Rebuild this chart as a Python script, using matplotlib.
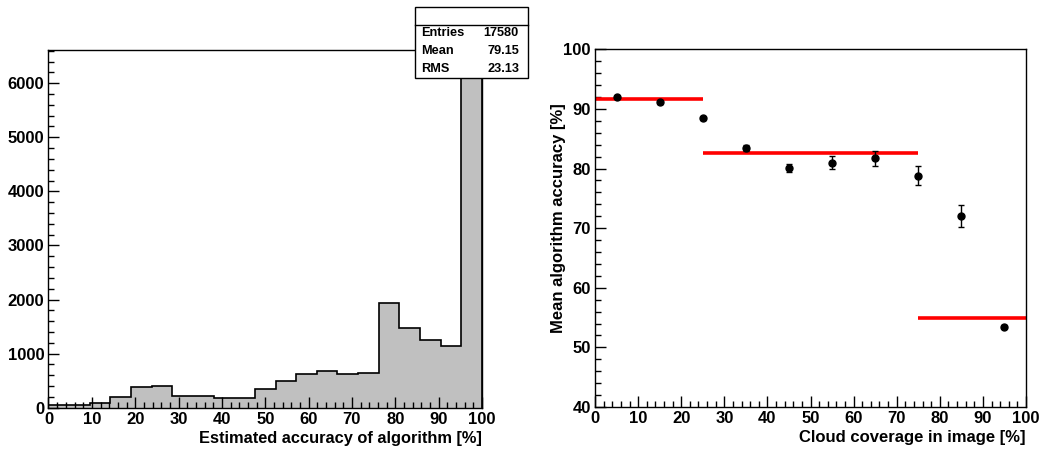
import matplotlib.pyplot as plt
import matplotlib.patches as patches
from matplotlib.lines import Line2D
from matplotlib.ticker import MultipleLocator
import numpy as np

plt.rcParams['font.family'] = ['Liberation Sans', 'DejaVu Sans']
plt.rcParams['font.weight'] = 'bold'

# left: histogram of estimated accuracy, 21 bins on 0..100
hist_edges = np.linspace(0, 100, 22)
hist_counts = [55, 55, 95, 190, 375, 395, 210, 210, 170, 170, 340,
               500, 625, 670, 620, 645, 1945, 1470, 1250, 1140, 6300]
stats_names = ["Entries", "Mean", "RMS"]
stats_values = ["17580", "79.15", "23.13"]

# right: mean accuracy vs cloud coverage
cloud_x = [5, 15, 25, 35, 45, 55, 65, 75, 85, 95]
acc_mean = [92.0, 91.1, 88.4, 83.4, 80.1, 81.0, 81.7, 78.8, 72.0, 53.5]
acc_err = [0.2, 0.2, 0.3, 0.5, 0.7, 1.1, 1.3, 1.55, 1.85, 0.3]
fit_start = [0, 25, 75]
fit_end = [25, 75, 100]
fit_level = [91.6, 82.55, 55.0]

fig = plt.figure(figsize=(10.43, 4.49), dpi=100)
ax1 = fig.add_axes([0.0465, 0.092, 0.4156, 0.7967])
ax2 = fig.add_axes([0.5705, 0.0935, 0.4132, 0.7967])

ax1.stairs(hist_counts, hist_edges, fill=True, facecolor='#c0c0c0', edgecolor='none')
ax1.stairs(hist_counts, hist_edges, fill=False, color='black', lw=1.2)
ax1.set_xlim(0, 100)
ax1.set_ylim(0, 6615)
ax1.xaxis.set_major_locator(MultipleLocator(10))
ax1.xaxis.set_minor_locator(MultipleLocator(2))
ax1.yaxis.set_major_locator(MultipleLocator(1000))
ax1.yaxis.set_minor_locator(MultipleLocator(200))
ax1.set_xlabel("Estimated accuracy of algorithm [%]", loc='right', fontsize=11.8, fontweight='bold')
ax1.xaxis.set_label_coords(1.0, -0.065)

ax2.errorbar(cloud_x, acc_mean, yerr=acc_err, fmt='o', color='black', ms=5,
             capsize=2, elinewidth=1, capthick=1, zorder=3)
ax2.hlines(fit_level, fit_start, fit_end, colors='red', lw=2.6, zorder=2)
ax2.set_xlim(0, 100)
ax2.set_ylim(40, 100)
ax2.xaxis.set_major_locator(MultipleLocator(10))
ax2.xaxis.set_minor_locator(MultipleLocator(2))
ax2.yaxis.set_major_locator(MultipleLocator(10))
ax2.yaxis.set_minor_locator(MultipleLocator(2))
ax2.set_xlabel("Cloud coverage in image [%]", loc='right', fontsize=12, fontweight='bold')
ax2.xaxis.set_label_coords(1.0, -0.065)
ax2.set_ylabel("Mean algorithm accuracy [%]", loc='top', fontsize=12, fontweight='bold')
ax2.yaxis.set_label_coords(-0.067, 0.85)

for ax in (ax1, ax2):
    ax.tick_params(which='major', direction='in', length=8, width=1, pad=3, labelsize=12,
                   top=False, right=False)
    ax.tick_params(which='minor', direction='in', length=4, width=1, top=False, right=False)
    for lab in ax.get_xticklabels() + ax.get_yticklabels():
        lab.set_fontweight('bold')
    for sp in ax.spines.values():
        sp.set_linewidth(1)

# stats box
bx0, bx1 = 415 / 1043, 527.5 / 1043
by0, by1 = 1 - 77.7 / 449, 1 - 7.3 / 449
fig.patches.append(patches.Rectangle((bx0, by0), bx1 - bx0, by1 - by0, transform=fig.transFigure,
                                     facecolor='white', edgecolor='black', lw=1, zorder=10))
fig.lines.append(Line2D([bx0, bx1], [1 - 25 / 449] * 2, transform=fig.transFigure,
                        color='black', lw=1, zorder=11))
for i, (name, val) in enumerate(zip(stats_names, stats_values)):
    yy = 1 - (33 + 18 * i) / 449
    fig.text(421 / 1043, yy, name, ha='left', va='center', fontsize=9.2, fontweight='bold', zorder=12)
    fig.text(519 / 1043, yy, val, ha='right', va='center', fontsize=9.2, fontweight='bold', zorder=12)

fig.savefig("out.png", dpi=100)
